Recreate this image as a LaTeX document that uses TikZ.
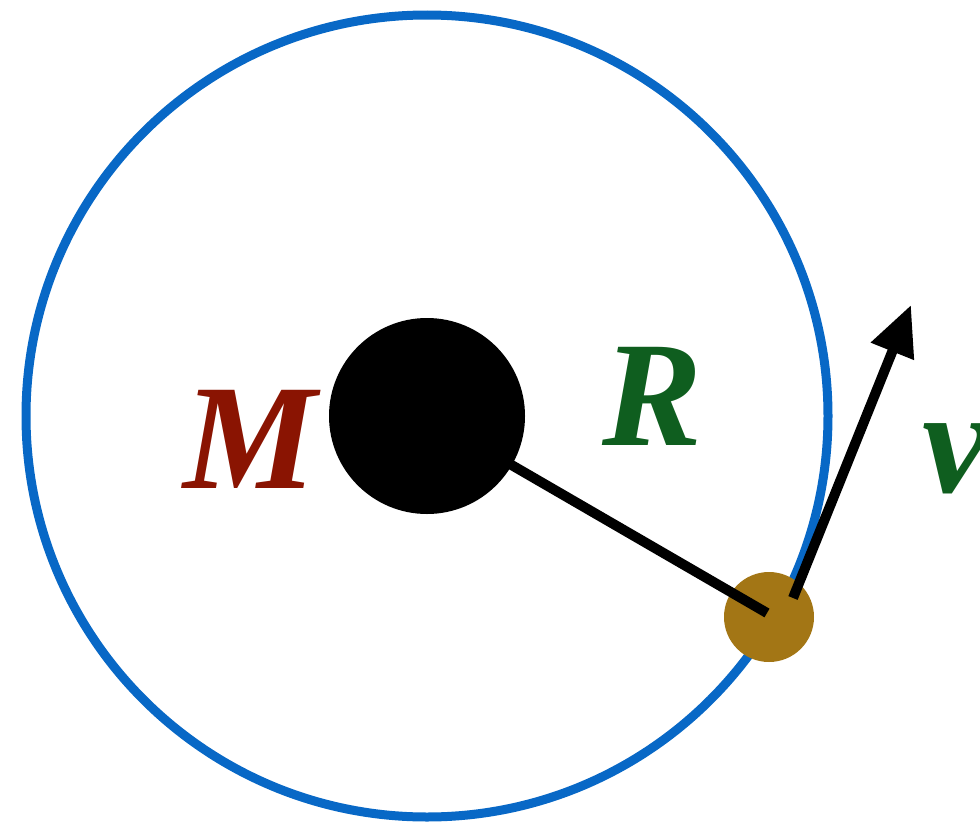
\documentclass[tikz,border=0pt]{standalone}
\usepackage{fontspec}
\setmainfont{Liberation Serif}[BoldItalicFont={Liberation Serif Bold Italic}]
\usetikzlibrary{arrows.meta}
\definecolor{orbitblue}{HTML}{0868C6}
\definecolor{goldball}{HTML}{A37615}
\definecolor{massred}{HTML}{8A1402}
\definecolor{radgreen}{HTML}{0F5E1F}
\tikzset{
  bigfont/.style={font=\fontsize{150bp}{150bp}\selectfont\bfseries\itshape, inner sep=0pt, anchor=base},
  ball/.style={circle, inner sep=0pt}
}
\begin{document}
\begin{tikzpicture}[x=1bp,y=-1bp]
\useasboundingbox (0,0) rectangle (980,826);
\clip (0,0) rectangle (980,826);
\coordinate (c) at (427,416);
\draw[orbitblue, line width=9bp] (c) circle[radius=401];
\node[ball, fill=goldball, minimum size=90bp] (m) at (769,617) {};
\draw[black, line width=10bp] (c) -- (767,613) coordinate (rend);
\node[ball, fill=black, minimum size=196bp] (M) at (c) {};
\coordinate (vstart) at (793,598);
\coordinate (vtip) at (911,305);
\draw[line width=10bp, -{Triangle[length=50bp,width=44bp]}] (vstart) -- (vtip);
\node[bigfont, text=massred] (Mlab) at (250,488) {M};
\node[bigfont, text=radgreen] (Rlab) at (653,445) {R};
\node[bigfont, text=radgreen, anchor=base west] (vlab) at (922,492) {v};
\end{tikzpicture}
\end{document}
